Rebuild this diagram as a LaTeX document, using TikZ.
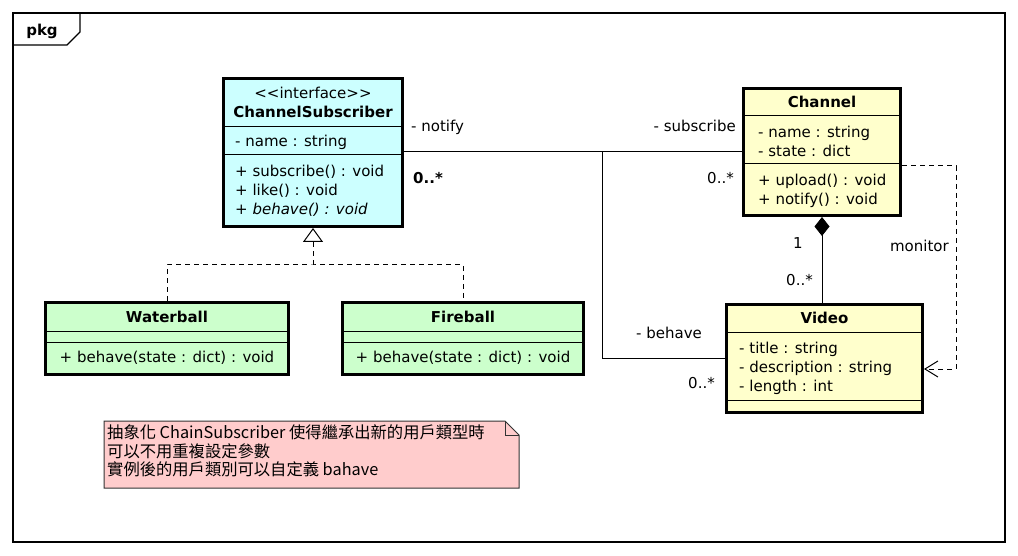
\documentclass[tikz,border=0pt]{standalone}
\usepackage{fontspec}
\setmainfont{DejaVu Sans}
\newfontfamily\cjkfont{Noto Sans CJK TC}
\usepackage{tikz}
\usetikzlibrary{arrows.meta}

\definecolor{ifacefill}{RGB}{204,255,255}
\definecolor{implfill}{RGB}{204,255,204}
\definecolor{classfill}{RGB}{255,255,204}
\definecolor{notefill}{RGB}{255,204,204}

\begin{document}
\begin{tikzpicture}[x=1pt,y=1pt,yscale=-1,xscale=1,
  font=\fontsize{15}{19}\selectfont,
  classbox/.style={draw, line width=3pt, inner sep=0pt},
  txt/.style={inner sep=0pt, text height=10.5pt, text depth=0pt},
  cjktxt/.style={txt, anchor=west, font=\cjkfont\fontsize{16.3}{18}\selectfont},
  conn/.style={line width=1pt},
  dashconn/.style={line width=1pt, dash pattern=on 5pt off 4pt}]
\path[use as bounding box] (0,0) rectangle (1018,556);

%Shape: Frame pkg
\draw[line width=1.2pt] (13,13) rectangle (1005,542);
\draw[line width=1.2pt] (13,45) -- (67,45) -- (80,32) -- (80,13);
% Text Node
\draw (42,30) node[txt] (pkg) {\bfseries pkg};

%Shape: Class ChannelSubscriber
\node (cs) [classbox, fill=ifacefill, minimum width=179pt, minimum height=148pt] at (313,152.5) {};
\draw[conn] (cs.west |- 0,127) -- (cs.east |- 0,127);
\draw[conn] (cs.west |- 0,155) -- (cs.east |- 0,155);
% Text Node
\draw (313,93) node[txt] (csst) {<\kern0pt<interface>\kern0pt>};
\draw (313,112) node[txt] (csnm) {\bfseries ChannelSubscriber};
\draw (235,141) node[txt, anchor=west] (csa1) {- name : string};
\draw (235,171) node[txt, anchor=west] (csm1) {+ subscribe() : void};
\draw (235,190) node[txt, anchor=west] (csm2) {+ like() : void};
\draw (235,209) node[txt, anchor=west] (csm3) {\itshape + behave() : void};

%Shape: Class Waterball
\node (wb) [classbox, fill=implfill, minimum width=243pt, minimum height=72pt] at (167,338.5) {};
\draw[conn] (wb.west |- 0,331) -- (wb.east |- 0,331);
\draw[conn] (wb.west |- 0,342) -- (wb.east |- 0,342);
% Text Node
\draw (167,317) node[txt] (wbnm) {\bfseries Waterball};
\draw (167,357) node[txt] (wbm1) {+ behave(state : dict) : void};

%Shape: Class Fireball
\node (fb) [classbox, fill=implfill, minimum width=241pt, minimum height=72pt] at (463,338.5) {};
\draw[conn] (fb.west |- 0,331) -- (fb.east |- 0,331);
\draw[conn] (fb.west |- 0,342) -- (fb.east |- 0,342);
% Text Node
\draw (463,317) node[txt] (fbnm) {\bfseries Fireball};
\draw (463,357) node[txt] (fbm1) {+ behave(state : dict) : void};

%Shape: Class Channel
\node (ch) [classbox, fill=classfill, minimum width=157pt, minimum height=127pt] at (822,152) {};
\draw[conn] (ch.west |- 0,116) -- (ch.east |- 0,116);
\draw[conn] (ch.west |- 0,164) -- (ch.east |- 0,164);
% Text Node
\draw (822,102) node[txt] (chnm) {\bfseries Channel};
\draw (758,132) node[txt, anchor=west] (cha1) {- name : string};
\draw (758,151) node[txt, anchor=west] (cha2) {- state : dict};
\draw (758,180) node[txt, anchor=west] (chm1) {+ upload() : void};
\draw (758,199) node[txt, anchor=west] (chm2) {+ notify() : void};

%Shape: Class Video
\node (vd) [classbox, fill=classfill, minimum width=196pt, minimum height=108pt] at (824.5,358.5) {};
\draw[conn] (vd.west |- 0,332) -- (vd.east |- 0,332);
\draw[conn] (vd.west |- 0,400) -- (vd.east |- 0,400);
% Text Node
\draw (824.5,318) node[txt] (vdnm) {\bfseries Video};
\draw (739,348) node[txt, anchor=west] (vda1) {- title : string};
\draw (739,367) node[txt, anchor=west] (vda2) {- description : string};
\draw (739,386) node[txt, anchor=west] (vda3) {- length : int};

%Straight Lines: realization
\coordinate (rz) at (313,265);
\draw[dashconn, -{Triangle[open, length=14pt, width=20pt, line width=1pt]}] (rz) -- (cs.south);
\draw[dashconn] (wb.north) |- (rz) -| (fb.north);

%Straight Lines: association
\coordinate (jn) at (602,152);
\draw[conn] (cs.east |- jn) -- (ch.west |- jn);
\draw[conn] (jn) |- (vd.west);
% Text Node
\draw (411,126) node[txt, anchor=west] (ntf) {- notify};
\draw (413,178) node[txt, anchor=west] (mcs) {\bfseries 0..*};
\draw (736,126) node[txt, anchor=east] (sbs) {- subscribe};
\draw (734,178) node[txt, anchor=east] (mch) {0..*};
\draw (636,333) node[txt, anchor=west] (bhv) {- behave};
\draw (715,383) node[txt, anchor=east] (mvd) {0..*};

%Straight Lines: composition
\draw[conn, {Diamond[length=19pt, width=15pt]}-] (ch.south) -- (ch.south |- vd.north);
% Text Node
\draw (798,243) node[txt] (one) {1};
\draw (813,280) node[txt, anchor=east] (many) {0..*};

%Straight Lines: dependency
\draw[dashconn, -{Straight Barb[length=13pt, width=16pt, line width=1pt]}] (ch.east |- 0,166) -- ++(54,0) |- (vd.east |- 0,369);
% Text Node
\draw (949,246) node[txt, anchor=east] (mon) {monitor};

%Shape: Note
\draw[fill=notefill, draw=black!80, line width=1pt] (104,421) -- (505,421) -- (519,435) -- (519,488) -- (104,488) -- cycle;
\draw[draw=black!80, line width=1pt] (505,421) -- (505,435) -- (519,435);
% Text Node
\draw (107,433) node[cjktxt] (nt1) {抽象化 ChainSubscriber 使得繼承出新的用戶類型時};
\draw (107,452) node[cjktxt] (nt2) {可以不用重複設定參數};
\draw (107,470) node[cjktxt] (nt3) {實例後的用戶類別可以自定義 bahave};

\end{tikzpicture}
\end{document}
